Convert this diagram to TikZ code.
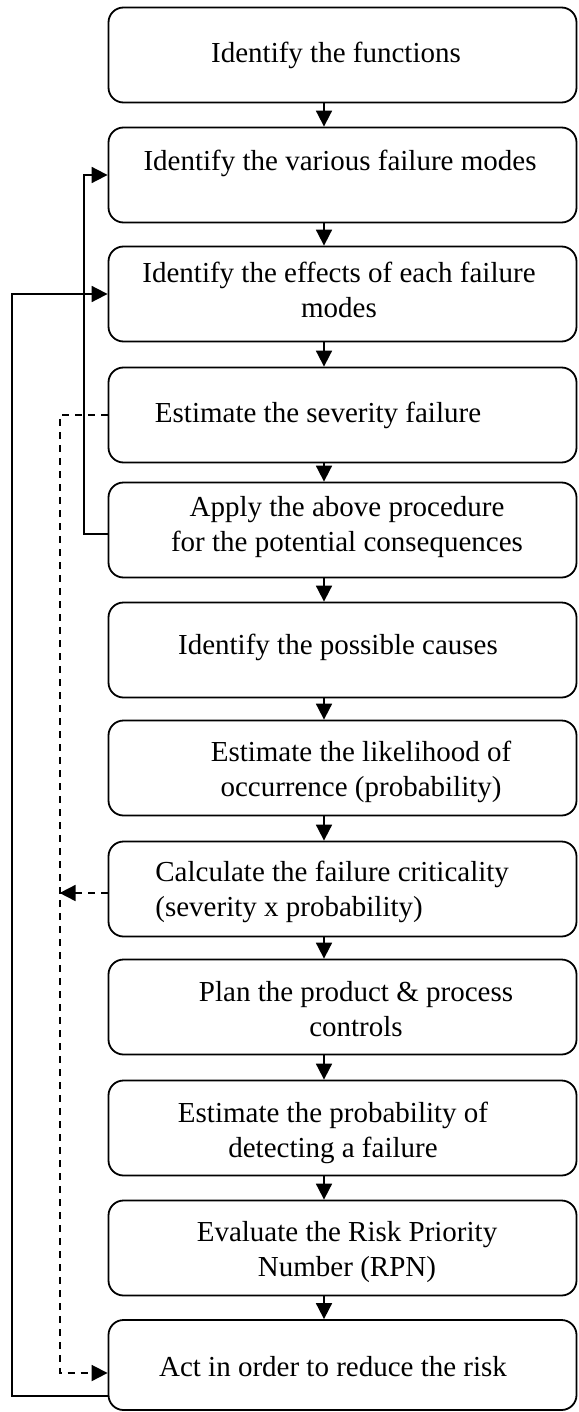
\documentclass[tikz,border=0pt]{standalone}
\usepackage{fontspec}
\setmainfont{Liberation Serif}
\usetikzlibrary{arrows.meta, calc}

\begin{document}
\begin{tikzpicture}[x=0.5pt,y=-0.5pt,
        box/.style={draw, line width=0.9pt, rounded corners=7.5pt, minimum width=234pt, minimum height=47.5pt, inner sep=0pt},
        txt/.style={align=center, inner sep=0pt, font=\fontsize{14.5}{17.25}\selectfont},
        flow/.style={-{Triangle[length=8pt,width=8pt]}, line width=0.9pt},
        back/.style={flow, dash pattern=on 3.5pt off 3pt}]
        \useasboundingbox (0,0) rectangle (578,1412);
        \def\boxx{342.5}
        \node[box] (b1) at (\boxx, 55) {};
        \node[box] (b2) at (\boxx, 175) {};
        \node[box] (b3) at (\boxx, 294) {};
        \node[box] (b4) at (\boxx, 415) {};
        \node[box] (b5) at (\boxx, 530) {};
        \node[box] (b6) at (\boxx, 650) {};
        \node[box] (b7) at (\boxx, 768) {};
        \node[box] (b8) at (\boxx, 889) {};
        \node[box] (b9) at (\boxx, 1007) {};
        \node[box] (b10) at (\boxx, 1128) {};
        \node[box] (b11) at (\boxx, 1248) {};
        \node[box, minimum height=45pt] (b12) at (\boxx, 1365) {};

        \node[txt] (t1) at (336, 55) {Identify the functions};
        \node[txt] (t2) at (340, 163) {Identify the various failure modes};
        \node[txt] (t3) at (339, 290) {Identify the effects of each failure\\modes};
        \node[txt] (t4) at (318, 415) {Estimate the severity failure};
        \node[txt] (t5) at (347, 527) {Apply the above procedure\\for the potential consequences};
        \node[txt] (t6) at (338, 647) {Identify the possible causes};
        \node[txt] (t7) at (361, 772) {Estimate the likelihood of\\occurrence (probability)};
        \node[txt, align=left, anchor=west] (t8) at (155, 892) {Calculate the failure criticality\\(severity x probability)};
        \node[txt] (t9) at (356, 1009) {Plan the product \& process\\controls};
        \node[txt] (t10) at (333, 1133) {Estimate the probability of\\detecting a failure};
        \node[txt] (t11) at (347, 1252) {Evaluate the Risk Priority\\Number (RPN)};
        \node[txt] (t12) at (333, 1367) {Act in order to reduce the risk};

        \coordinate (ax) at (324, 0);
        \path[flow]
        (b1.south -| ax) edge (b2.north -| ax)
        (b2.south -| ax) edge (b3.north -| ax)
        (b3.south -| ax) edge (b4.north -| ax)
        (b4.south -| ax) edge (b5.north -| ax)
        (b5.south -| ax) edge (b6.north -| ax)
        (b6.south -| ax) edge (b7.north -| ax)
        (b7.south -| ax) edge (b8.north -| ax)
        (b8.south -| ax) edge (b9.north -| ax)
        (b9.south -| ax) edge (b10.north -| ax)
        (b10.south -| ax) edge (b11.north -| ax)
        (b11.south -| ax) edge (b12.north -| ax)
        ;

        % feedback loops
        \draw[flow] ([yshift=-15.5pt]b12.west) -| ([xshift=-48pt]b3.west) -- (b3.west);
        \draw[flow] ([yshift=-2pt]b5.west) -| ([xshift=-12pt]b2.west) -- (b2.west);
        \draw[back] (b4.west) -| ([xshift=-24pt,yshift=-4pt]b12.west) -- ([yshift=-4pt]b12.west);
        \draw[back] ([yshift=-2pt]b8.west) -- ([xshift=-24pt,yshift=-2pt]b8.west);
    \end{tikzpicture}
\end{document}
